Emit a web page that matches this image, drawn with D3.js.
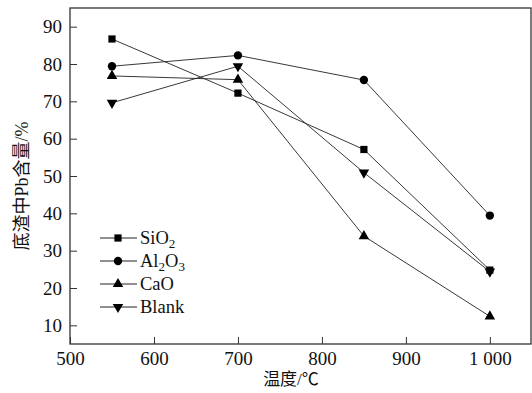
<!DOCTYPE html>
<html>
<head>
<meta charset="utf-8">
<script src="https://cdn.jsdelivr.net/npm/d3@7"></script>
<style>
  body { margin: 0; background: #fff; }
  svg text { font-family: "Liberation Serif", "Times New Roman", "Noto Sans CJK SC", serif; fill: #111; }
</style>
</head>
<body>
<svg id="chart" width="532" height="393"></svg>
<script>
// temperatures (°C)
const temps = [550, 700, 850, 1000];
// Pb content in residue (%)
const sio2  = [86.7, 72.2, 57.1, 24.8];
const al2o3 = [79.4, 82.3, 75.7, 39.4];
const cao   = [76.8, 75.8, 33.9, 12.4];
const blank = [69.6, 79.4, 50.9, 24.4];

const xTicks = [500, 600, 700, 800, 900, 1000];
const yTicks = [10, 20, 30, 40, 50, 60, 70, 80, 90];

const series = [
  { name: "SiO", sub: "2", tail: "", sym: d3.symbolSquare, size: 52, rot: 0, vals: sio2 },
  { name: "Al", sub: "2", tail: "O", sub2: "3", sym: d3.symbolCircle, size: 55, rot: 0, vals: al2o3 },
  { name: "CaO", sub: "", tail: "", sym: d3.symbolTriangle, size: 48, rot: 0, vals: cao },
  { name: "Blank", sub: "", tail: "", sym: d3.symbolTriangle, size: 48, rot: 180, vals: blank }
];

const margin = { top: 8, right: 1, bottom: 49, left: 70 };
const width = 532 - margin.left - margin.right;
const height = 393 - margin.top - margin.bottom;

const svg = d3.select("#chart");
const g = svg.append("g").attr("transform", "translate(" + margin.left + "," + margin.top + ")");

const x = d3.scaleLinear().domain([500, 1049]).range([0, width]);
const y = d3.scaleLinear().domain([5, 95]).range([height, 0]);

// frame
g.append("rect")
  .attr("width", width).attr("height", height)
  .attr("fill", "none").attr("stroke", "#333").attr("stroke-width", 1.3);

const fmt = d => d >= 1000 ? d3.format(",")(d).replace(",", " ") : d;

const xAxis = g.append("g")
  .attr("transform", "translate(0," + height + ")")
  .call(d3.axisBottom(x).tickValues(xTicks).tickSize(-7).tickPadding(8).tickFormat(fmt));
const yAxis = g.append("g")
  .call(d3.axisLeft(y).tickValues(yTicks).tickSize(-7).tickPadding(8));

[xAxis, yAxis].forEach(a => {
  a.attr("font-family", null);
  a.select(".domain").remove();
  a.selectAll(".tick line").attr("stroke", "#333").attr("stroke-width", 1);
  a.selectAll(".tick text").attr("font-size", 19).attr("fill", "#111");
});

// lines + markers
const line = d3.line().x((d, i) => x(temps[i])).y(d => y(d));

series.forEach(s => {
  g.append("path")
    .datum(s.vals)
    .attr("d", line)
    .attr("fill", "none")
    .attr("stroke", "#222")
    .attr("stroke-width", 0.9);
});
series.forEach(s => {
  g.selectAll(null)
    .data(s.vals)
    .enter()
    .append("path")
    .attr("d", d3.symbol().type(s.sym).size(s.size))
    .attr("transform", (d, i) => "translate(" + x(temps[i]) + "," + y(d) + ") rotate(" + s.rot + ")")
    .attr("fill", "#000");
});

// legend
const leg = svg.append("g").attr("transform", "translate(100,238)");
series.forEach((s, i) => {
  const r = leg.append("g").attr("transform", "translate(0," + (i * 23) + ")");
  r.append("line").attr("x1", 0).attr("x2", 37).attr("stroke", "#222").attr("stroke-width", 1);
  r.append("path")
    .attr("d", d3.symbol().type(s.sym).size(s.size))
    .attr("transform", "translate(18,0) rotate(" + s.rot + ")")
    .attr("fill", "#000");
  const t = r.append("text").attr("x", 40).attr("y", 6).attr("font-size", 18.5);
  t.append("tspan").text(s.name);
  if (s.sub) t.append("tspan").attr("font-size", 13).attr("dy", 4).text(s.sub);
  if (s.tail) t.append("tspan").attr("dy", -4).text(s.tail);
  if (s.sub2) t.append("tspan").attr("font-size", 13).attr("dy", 4).text(s.sub2);
});

// axis titles
svg.append("text")
  .attr("x", 291).attr("y", 385)
  .attr("text-anchor", "middle").attr("font-size", 17)
  .text("温度/℃");

svg.append("text")
  .attr("transform", "translate(28,186) rotate(-90)")
  .attr("text-anchor", "middle").attr("font-size", 18)
  .text("底渣中Pb含量/%");
</script>
</body>
</html>
